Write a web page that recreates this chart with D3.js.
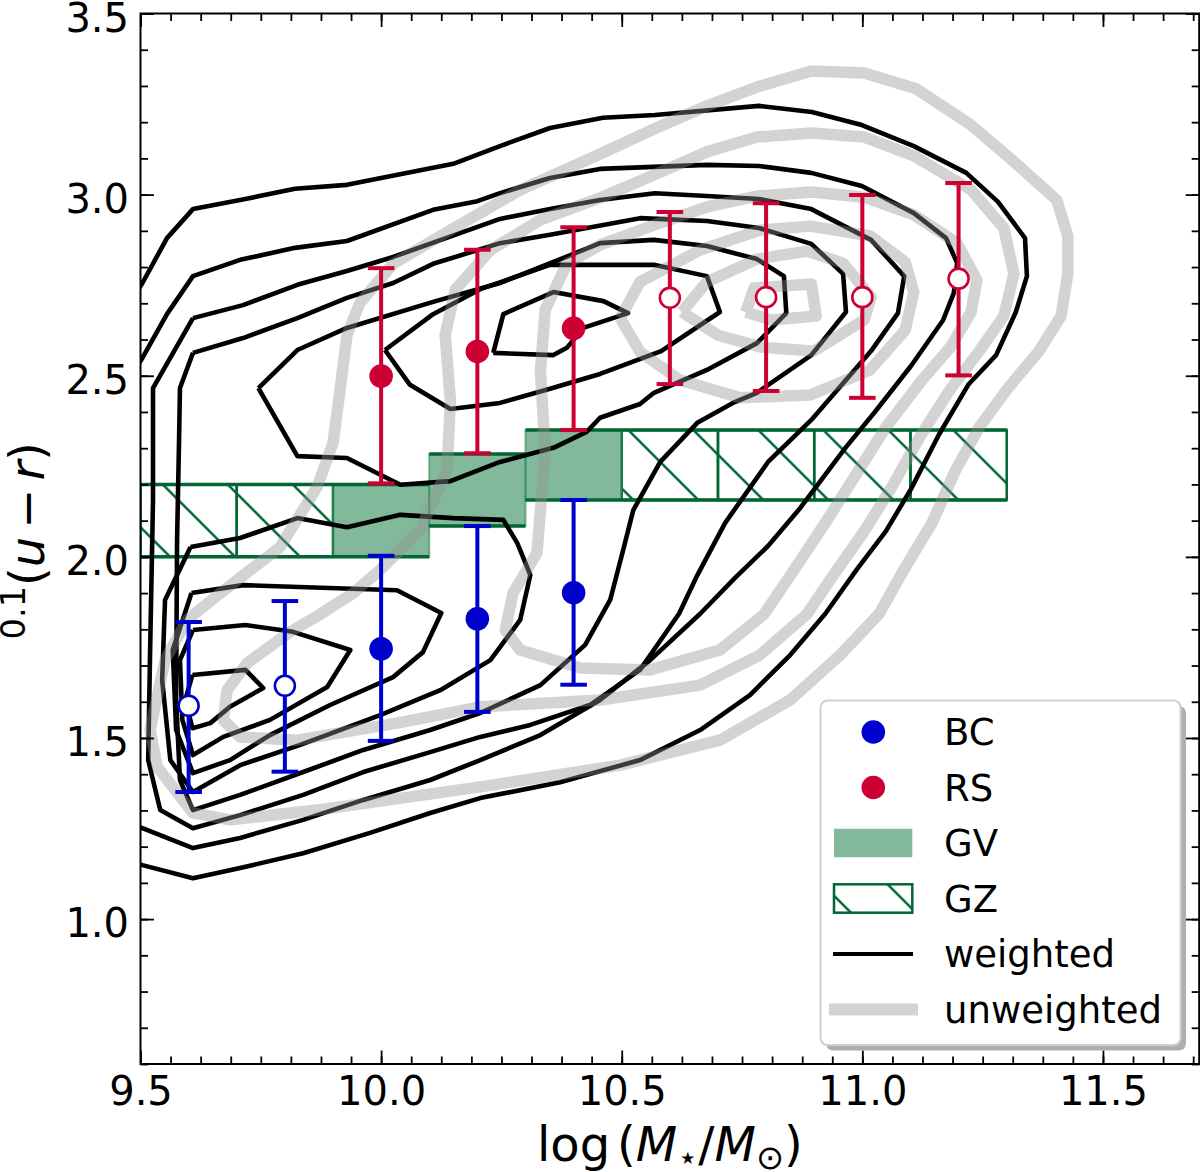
<!DOCTYPE html>
<html><head><meta charset="utf-8">
<script src="https://cdn.jsdelivr.net/npm/d3@7"></script>
<style>body{margin:0;background:#fff}svg{display:block}text{font-family:"DejaVu Sans",sans-serif}</style>
</head><body><svg id="c" width="1200" height="1172"></svg>
<script>
// ---------- data ----------
const xTicks=[9.5,10.0,10.5,11.0,11.5];
const yTicks=[1.0,1.5,2.0,2.5,3.0,3.5];
const bcX=[9.6,9.8,10.0,10.2,10.4];
const bcY=[1.589,1.644,1.746,1.829,1.901];
const bcLo=[1.351,1.407,1.492,1.572,1.647];
const bcHi=[1.820,1.878,2.003,2.085,2.157];
const bcOpen=[true,true,false,false,false];
const rsX=[10.0,10.2,10.4,10.6,10.8,11.0,11.2];
const rsY=[2.499,2.567,2.631,2.715,2.717,2.717,2.768];
const rsLo=[2.203,2.286,2.350,2.477,2.458,2.439,2.501];
const rsHi=[2.797,2.848,2.910,2.952,2.976,2.999,3.032];
const rsOpen=[false,false,false,true,true,true,true];
const gvX0=[9.9,10.1,10.3], gvX1=[10.1,10.3,10.5];
const gvLo=[2.0,2.085,2.157], gvHi=[2.2,2.284,2.350];
const gzX0=[9.5,9.7,10.5,10.7,10.9,11.1], gzX1=[9.7,9.9,10.7,10.9,11.1,11.3];
const gzLo=[2.0,2.0,2.157,2.157,2.157,2.157], gzHi=[2.2,2.2,2.350,2.350,2.350,2.350];
const legendLabels=['BC','RS','GV','GZ','weighted','unweighted'];

// weighted contours (black)
const wK1=[[9.468,2.681],[9.504,2.756],[9.555,2.880],[9.609,2.960],[9.707,2.985],[9.821,3.016],[9.929,3.027],[10.150,3.085],[10.247,3.134],[10.351,3.184],[10.461,3.212],[10.569,3.220],[10.785,3.245],[10.895,3.228],[10.999,3.192],[11.107,3.134],[11.216,3.060],[11.282,2.980],[11.338,2.880],[11.342,2.775],[11.319,2.676],[11.278,2.557],[11.220,2.475],[11.159,2.337],[11.101,2.187],[11.049,2.071],[10.989,1.966],[10.923,1.843],[10.850,1.729],[10.767,1.619],[10.663,1.522],[10.538,1.439],[10.372,1.378],[10.206,1.334],[10.102,1.293],[9.977,1.238],[9.838,1.182],[9.707,1.141],[9.609,1.113],[9.504,1.149],[9.468,1.163]];
const wK2=[[9.468,2.475],[9.504,2.549],[9.555,2.670],[9.609,2.775],[9.707,2.820],[9.821,2.853],[9.929,2.872],[10.108,2.958],[10.200,2.982],[10.247,3.004],[10.351,3.046],[10.455,3.071],[10.677,3.082],[10.785,3.079],[10.894,3.060],[10.999,3.024],[11.107,2.949],[11.174,2.880],[11.197,2.811],[11.190,2.728],[11.168,2.654],[11.101,2.527],[11.026,2.400],[10.966,2.303],[10.871,2.135],[10.804,2.030],[10.737,1.944],[10.663,1.843],[10.559,1.715],[10.455,1.605],[10.331,1.508],[10.206,1.439],[10.102,1.384],[9.963,1.329],[9.838,1.274],[9.707,1.224],[9.609,1.196],[9.504,1.251],[9.468,1.268]];
const wK3=[[9.609,2.659],[9.713,2.695],[9.826,2.751],[9.929,2.789],[10.025,2.828],[10.247,2.933],[10.351,2.960],[10.455,2.985],[10.569,3.004],[10.677,2.996],[10.785,2.988],[10.894,2.960],[11.018,2.875],[11.087,2.775],[11.074,2.673],[11.018,2.568],[10.894,2.378],[10.804,2.262],[10.715,2.094],[10.655,1.944],[10.619,1.843],[10.538,1.688],[10.434,1.591],[10.310,1.536],[10.206,1.503],[10.102,1.461],[9.963,1.406],[9.838,1.343],[9.707,1.287],[9.609,1.251],[9.541,1.301],[9.516,1.439],[9.520,1.743],[9.526,2.157],[9.526,2.466],[9.609,2.659]];
const wK4=[[9.609,2.563],[9.713,2.604],[9.826,2.659],[9.929,2.715],[10.025,2.756],[10.108,2.809],[10.247,2.866],[10.351,2.889],[10.538,2.935],[10.677,2.927],[10.785,2.908],[10.894,2.864],[10.960,2.781],[10.966,2.676],[10.894,2.557],[10.781,2.453],[10.731,2.425],[10.657,2.370],[10.580,2.262],[10.524,2.129],[10.503,2.019],[10.476,1.881],[10.424,1.757],[10.331,1.646],[10.206,1.569],[10.102,1.522],[9.963,1.467],[9.838,1.406],[9.707,1.343],[9.609,1.301],[9.582,1.384],[9.574,1.605],[9.576,2.047],[9.580,2.314],[9.582,2.466],[9.609,2.563]];
const wK5=[[9.745,2.466],[9.826,2.571],[9.929,2.632],[10.108,2.704],[10.247,2.756],[10.358,2.814],[10.455,2.866],[10.567,2.875],[10.677,2.858],[10.781,2.822],[10.837,2.775],[10.842,2.673],[10.781,2.590],[10.677,2.516],[10.567,2.453],[10.538,2.422],[10.455,2.384],[10.427,2.345],[10.358,2.301],[10.247,2.262],[10.144,2.209],[10.040,2.199],[9.929,2.273],[9.826,2.278],[9.745,2.466]];
const wK6=[[10.008,2.571],[10.108,2.670],[10.206,2.739],[10.351,2.806],[10.455,2.806],[10.569,2.806],[10.677,2.775],[10.704,2.676],[10.582,2.568],[10.455,2.505],[10.351,2.464],[10.247,2.425],[10.144,2.408],[10.060,2.475],[10.008,2.571]];
const wK7=[[10.233,2.563],[10.254,2.670],[10.358,2.731],[10.462,2.706],[10.513,2.673],[10.420,2.632],[10.386,2.577],[10.358,2.557],[10.233,2.563]];
const wB5=[[9.604,2.027],[9.707,2.052],[9.826,2.107],[9.929,2.082],[10.040,2.116],[10.150,2.107],[10.254,2.102],[10.283,2.038],[10.310,1.950],[10.289,1.826],[10.227,1.715],[10.123,1.632],[9.998,1.563],[9.832,1.481],[9.707,1.425],[9.609,1.351],[9.562,1.439],[9.545,1.660],[9.551,1.881],[9.604,2.027]];
const wB6=[[9.606,1.900],[9.713,1.922],[10.033,1.908],[10.125,1.845],[10.087,1.737],[10.025,1.668],[9.894,1.591],[9.769,1.508],[9.686,1.439],[9.609,1.403],[9.574,1.522],[9.567,1.743],[9.606,1.900]];
const wB7=[[9.609,1.798],[9.718,1.812],[9.817,1.793],[9.936,1.743],[9.888,1.641],[9.769,1.550],[9.672,1.503],[9.609,1.453],[9.587,1.550],[9.582,1.715],[9.609,1.798]];
const wB8=[[9.608,1.674],[9.718,1.688],[9.755,1.638],[9.686,1.586],[9.645,1.541],[9.608,1.527],[9.593,1.605],[9.608,1.674]];
const weighted=[wK1,wK2,wK3,wK4,wK5,wK6,wK7,wB5,wB6,wB7,wB8];

// unweighted contours (grey)
const uG1=[[10.455,3.112],[10.567,3.181],[10.677,3.245],[10.781,3.297],[10.894,3.341],[11.004,3.336],[11.112,3.292],[11.226,3.192],[11.309,3.098],[11.404,2.985],[11.427,2.886],[11.427,2.781],[11.413,2.665],[11.367,2.568],[11.301,2.463],[11.243,2.358],[11.191,2.232],[11.145,2.094],[11.087,1.966],[11.035,1.843],[10.954,1.729],[10.850,1.605],[10.704,1.494],[10.497,1.425],[10.206,1.365],[9.867,1.301],[9.686,1.274],[9.609,1.293],[9.535,1.420],[9.520,1.522],[9.551,1.715],[9.597,1.826],[9.666,1.900],[9.790,2.027],[9.867,2.193],[9.900,2.314],[9.915,2.464],[9.929,2.612],[9.956,2.701],[10.025,2.809],[10.144,2.902],[10.289,3.013],[10.455,3.112]];
const uG2=[[10.455,2.991],[10.567,3.054],[10.677,3.118],[10.781,3.159],[10.894,3.170],[11.004,3.159],[11.107,3.107],[11.226,3.013],[11.294,2.908],[11.315,2.781],[11.294,2.665],[11.243,2.568],[11.183,2.463],[11.122,2.337],[11.064,2.199],[11.004,2.071],[10.937,1.944],[10.885,1.842],[10.787,1.729],[10.663,1.646],[10.455,1.605],[10.206,1.586],[10.033,1.541],[9.826,1.494],[9.707,1.503],[9.672,1.550],[9.680,1.632],[9.722,1.707],[9.811,1.793],[9.873,1.841],[9.942,1.900],[9.998,1.964],[10.081,2.074],[10.137,2.240],[10.144,2.433],[10.133,2.612],[10.154,2.737],[10.227,2.847],[10.331,2.930],[10.455,2.991]];
const uG3=[[10.455,2.861],[10.567,2.916],[10.677,2.966],[10.781,2.996],[10.894,3.007],[11.004,2.993],[11.107,2.944],[11.197,2.866],[11.238,2.764],[11.226,2.676],[11.183,2.579],[11.122,2.485],[11.049,2.358],[10.989,2.232],[10.923,2.094],[10.848,1.944],[10.796,1.842],[10.704,1.743],[10.559,1.688],[10.414,1.693],[10.289,1.743],[10.258,1.798],[10.274,1.900],[10.324,2.011],[10.341,2.295],[10.331,2.513],[10.341,2.682],[10.386,2.809],[10.455,2.861]];
const uG4=[[10.497,2.659],[10.538,2.759],[10.663,2.847],[10.788,2.902],[10.892,2.913],[11.016,2.886],[11.089,2.814],[11.107,2.731],[11.089,2.626],[11.016,2.516],[10.892,2.447],[10.746,2.439],[10.621,2.488],[10.538,2.566],[10.497,2.659]];
const uG5=[[10.625,2.676],[10.677,2.759],[10.781,2.822],[10.885,2.844],[10.960,2.811],[11.018,2.717],[11.004,2.654],[10.899,2.568],[10.790,2.579],[10.700,2.612],[10.625,2.676]];
const uG6=[[10.758,2.676],[10.775,2.742],[10.894,2.753],[10.904,2.665],[10.810,2.654],[10.758,2.676]];
const unweighted=[uG1,uG2,uG3,uG4,uG5,uG6];

// ---------- styles ----------
const BLUE='#0000cc', RED='#cc0033', DKGREEN='#006633', GVCOL='#2e8b57';
const GREY='#919191', GREYOP=0.4;
const FONT='"DejaVu Sans", sans-serif';

const svg=d3.select('#c');
const L=140.5,T=13.5,R=1199.2,B=1064;
const x=d3.scaleLinear().domain([9.5,11.7]).range([L,R]);
const y=d3.scaleLinear().domain([0.6,3.5]).range([B,T]);

const defs=svg.append('defs');
defs.append('clipPath').attr('id','clip').append('rect')
  .attr('x',L).attr('y',T).attr('width',R-L).attr('height',B-T);
const pat=defs.append('pattern').attr('id','hatch').attr('patternUnits','userSpaceOnUse')
  .attr('width',65).attr('height',65).attr('x',3.3).attr('y',0);
pat.append('path').attr('d','M-3,-3L68,68M62,-3L68,3M-3,62L3,68')
  .attr('stroke',DKGREEN).attr('stroke-width',2.5).attr('fill','none');

const plot=svg.append('g').attr('clip-path','url(#clip)');

// GZ boxes
gzX0.forEach((x0,i)=>{
  plot.append('rect').attr('x',x(x0)).attr('y',y(gzHi[i]))
    .attr('width',x(gzX1[i])-x(x0)).attr('height',y(gzLo[i])-y(gzHi[i]))
    .attr('fill','url(#hatch)').attr('stroke',DKGREEN).attr('stroke-width',2.5);
});
// GV boxes
gvX0.forEach((x0,i)=>{
  plot.append('rect').attr('x',x(x0)).attr('y',y(gvHi[i]))
    .attr('width',x(gvX1[i])-x(x0)).attr('height',y(gvLo[i])-y(gvHi[i]))
    .attr('fill',GVCOL).attr('fill-opacity',0.6)
    .attr('stroke',GVCOL).attr('stroke-opacity',0.6).attr('stroke-width',2);
});
// horizontal edges
[[gzX0,gzX1,gzLo,gzHi],[gvX0,gvX1,gvLo,gvHi]].forEach(([a,b,lo,hi])=>{
  a.forEach((x0,i)=>{
    [lo[i],hi[i]].forEach(v=>{
      plot.append('line').attr('x1',x(x0)).attr('x2',x(b[i]))
        .attr('y1',y(v)).attr('y2',y(v)).attr('stroke',DKGREEN).attr('stroke-width',3.5);
    });
  });
});

const line=d3.line().x(d=>x(d[0])).y(d=>y(d[1]));
plot.selectAll('path.w').data(weighted).join('path').attr('class','w')
  .attr('d',line).attr('fill','none').attr('stroke','#000').attr('stroke-width',4.6)
  .attr('stroke-linejoin','round');
plot.selectAll('path.u').data(unweighted).join('path').attr('class','u')
  .attr('d',line).attr('fill','none').attr('stroke',GREY).attr('stroke-opacity',GREYOP)
  .attr('stroke-width',11.5).attr('stroke-linejoin','round');

// error bars
function errbars(X,Y,Lo,Hi,Op,col){
  X.forEach((xv,i)=>{
    const g=plot.append('g');
    g.append('line').attr('x1',x(xv)).attr('x2',x(xv)).attr('y1',y(Lo[i])).attr('y2',y(Hi[i]))
      .attr('stroke',col).attr('stroke-width',4);
    [Lo[i],Hi[i]].forEach(v=>g.append('line').attr('x1',x(xv)-13.3).attr('x2',x(xv)+13.3)
      .attr('y1',y(v)).attr('y2',y(v)).attr('stroke',col).attr('stroke-width',4));
    if(Op[i]) g.append('circle').attr('cx',x(xv)).attr('cy',y(Y[i])).attr('r',10)
      .attr('fill','#fff').attr('stroke',col).attr('stroke-width',2.6);
    else g.append('circle').attr('cx',x(xv)).attr('cy',y(Y[i])).attr('r',11.8).attr('fill',col);
  });
}
errbars(bcX,bcY,bcLo,bcHi,bcOpen,BLUE);
errbars(rsX,rsY,rsLo,rsHi,rsOpen,RED);

// axes
const minorX=d3.range(0,36).map(k=>9.5+k*0.0625).filter(v=>v<=11.7+1e-9);
const minorY=d3.range(0,30).map(k=>0.6+k*0.1).filter(v=>v<=3.5+1e-9);
function styleAxis(g){g.select('.domain').remove();g.selectAll('line').attr('stroke','#000').attr('stroke-width',1.8);}
const fmt=d3.format('.1f');
svg.append('g').attr('transform',`translate(0,${B})`)
  .call(d3.axisBottom(x).tickValues(minorX).tickSize(-7.5).tickFormat('')).call(styleAxis);
svg.append('g').attr('transform',`translate(0,${T})`)
  .call(d3.axisTop(x).tickValues(minorX).tickSize(-7.5).tickFormat('')).call(styleAxis);
svg.append('g').attr('transform',`translate(${L},0)`)
  .call(d3.axisLeft(y).tickValues(minorY).tickSize(-7.5).tickFormat('')).call(styleAxis);
svg.append('g').attr('transform',`translate(${R},0)`)
  .call(d3.axisRight(y).tickValues(minorY).tickSize(-7.5).tickFormat('')).call(styleAxis);
const gxb=svg.append('g').attr('transform',`translate(0,${B})`)
  .call(d3.axisBottom(x).tickValues(xTicks).tickSize(-13.5).tickPadding(12.6).tickFormat(fmt)).call(styleAxis);
svg.append('g').attr('transform',`translate(0,${T})`)
  .call(d3.axisTop(x).tickValues(xTicks).tickSize(-13.5).tickFormat('')).call(styleAxis);
const gyl=svg.append('g').attr('transform',`translate(${L},0)`)
  .call(d3.axisLeft(y).tickValues(yTicks).tickSize(-13.5).tickPadding(11.5).tickFormat(fmt)).call(styleAxis);
svg.append('g').attr('transform',`translate(${R},0)`)
  .call(d3.axisRight(y).tickValues(yTicks).tickSize(-13.5).tickFormat('')).call(styleAxis);
[gxb,gyl].forEach(g=>g.selectAll('text').attr('font-size',40).attr('font-family',FONT).attr('fill','#000'));
gyl.selectAll('text').attr('dy','0.44em');
svg.append('rect').attr('x',L).attr('y',T).attr('width',R-L).attr('height',B-T)
  .attr('fill','none').attr('stroke','#000').attr('stroke-width',2);

// axis labels
const xl=svg.append('text').attr('x',(L+R)/2).attr('y',1161).attr('text-anchor','middle')
  .attr('font-size',48).attr('font-family',FONT);
xl.append('tspan').text('log');
xl.append('tspan').attr('dx',7).text('(');
xl.append('tspan').attr('font-style','italic').text('M');
xl.append('tspan').attr('font-size',33.6).attr('dy',8).text('\u22C6');
xl.append('tspan').attr('dy',-8).text('/');
xl.append('tspan').attr('font-style','italic').text('M');
xl.append('tspan').attr('font-size',33.6).attr('dy',8).text('\u2299');
xl.append('tspan').attr('dy',-8).text(')');

const yl=svg.append('text').attr('transform',`translate(43.5,${(T+B)/2+2}) rotate(-90)`)
  .attr('text-anchor','middle').attr('font-size',48).attr('font-family',FONT);
yl.append('tspan').attr('font-size',33.6).attr('dy',-18.5).text('0.1');
yl.append('tspan').attr('dy',18.5).text('(');
yl.append('tspan').attr('font-style','italic').text('u');
yl.append('tspan').attr('dx',8).text('\u2212');
yl.append('tspan').attr('dx',8).attr('font-style','italic').text('r');
yl.append('tspan').text(')');

// legend
const lg=svg.append('g');
const LX=820.5, LY=700.5, LW=360, LH=344.5;
lg.append('rect').attr('x',LX+5.5).attr('y',LY+5.5).attr('width',LW).attr('height',LH).attr('rx',7).attr('fill','#aeaeae');
lg.append('rect').attr('x',LX).attr('y',LY).attr('width',LW).attr('height',LH).attr('rx',7)
  .attr('fill','#fff').attr('stroke','#d0d0d0').attr('stroke-width',2);
const rows=[732,787.5,843,898.5,954,1009.5];
const mx=873.3;
lg.append('circle').attr('cx',mx).attr('cy',rows[0]).attr('r',11.8).attr('fill',BLUE);
lg.append('circle').attr('cx',mx).attr('cy',rows[1]).attr('r',11.8).attr('fill',RED);
lg.append('rect').attr('x',834).attr('y',rows[2]-14.2).attr('width',78.3).attr('height',28.4)
  .attr('fill',GVCOL).attr('fill-opacity',0.6);
lg.append('rect').attr('x',834).attr('y',rows[3]-14.2).attr('width',78.3).attr('height',28.4)
  .attr('fill','url(#hatch)').attr('stroke',DKGREEN).attr('stroke-width',2.5);
lg.append('line').attr('x1',833).attr('x2',913).attr('y1',rows[4]).attr('y2',rows[4])
  .attr('stroke','#000').attr('stroke-width',4);
lg.append('line').attr('x1',829).attr('x2',918).attr('y1',rows[5]).attr('y2',rows[5])
  .attr('stroke',GREY).attr('stroke-opacity',GREYOP).attr('stroke-width',12);
legendLabels.forEach((t,i)=>lg.append('text').attr('x',944).attr('y',rows[i]).attr('dy','0.36em')
  .attr('font-size',37).attr('font-family',FONT).text(t));
</script></body></html>
